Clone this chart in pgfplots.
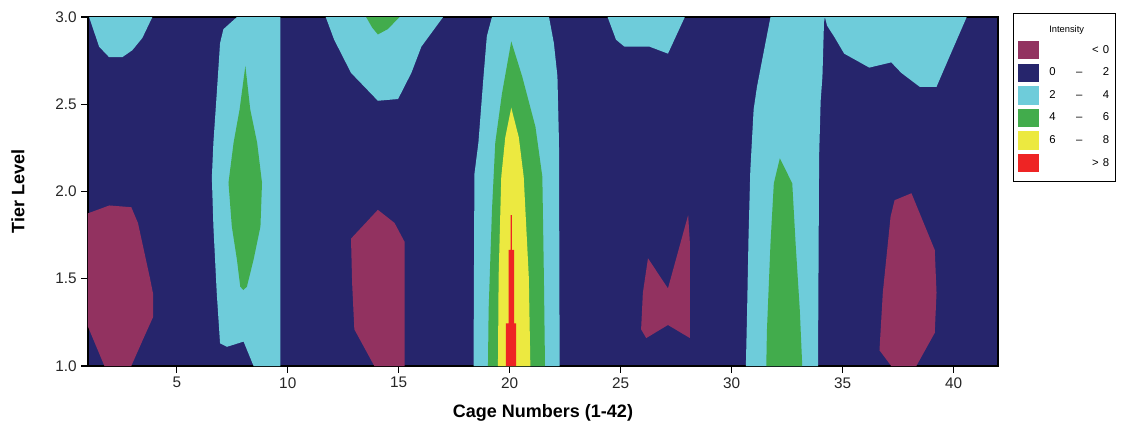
\documentclass[border=0pt]{standalone}
\usepackage{fontspec}
\setmainfont{Liberation Sans}
\usepackage{pgfplots}
\pgfplotsset{compat=1.18}
\definecolor{cNavy}{RGB}{38,37,108}
\definecolor{cCyan}{RGB}{110,204,218}
\definecolor{cGreen}{RGB}{66,172,76}
\definecolor{cYellow}{RGB}{236,233,64}
\definecolor{cRed}{RGB}{238,36,36}
\definecolor{cMaroon}{RGB}{146,50,96}
\newcommand{\lgimg}[1]{\addlegendimage{legend image code/.code={\fill[#1] (0pt,-6.4pt) rectangle (15pt,6.4pt);}}}
\newcommand{\rng}[3]{\hspace{6pt}\makebox[8pt][l]{#1}\makebox[29pt][c]{#2}\makebox[8pt][r]{#3}}
\begin{document}
\begin{tikzpicture}
\useasboundingbox (0,0) rectangle (842.25pt,322.5pt);
\begin{axis}[
  at={(66pt,48pt)}, anchor=south west,
  scale only axis, width=682.5pt, height=261.75pt,
  xmin=1, xmax=42, ymin=1, ymax=3,
  axis background/.style={fill=cNavy},
  axis line style={black, line width=0.8pt},
  xtick={5,10,...,40}, ytick={1,1.5,...,3},
  tick align=outside, tick pos=left,
  major tick length=5pt,
  tick style={black, line width=0.8pt},
  /pgf/number format/assume math mode=true,
  yticklabel style={/pgf/number format/.cd,fixed,fixed zerofill,precision=1},
  tick label style={font=\fontsize{11.5}{12}\selectfont, text=black!85},
  xlabel={\textbf{Cage Numbers (1-42)}},
  ylabel={\textbf{Tier Level}},
  label style={font=\fontsize{13.5}{14}\selectfont},
  xlabel style={at={(axis description cs:0.5,-0.135)}, anchor=center},
  ylabel style={at={(axis description cs:-0.077,0.5)}, anchor=center, rotate=0},
  legend style={at={(rel axis cs:1.0165,1.0115)}, anchor=north west,
    draw=black, line width=0.8pt, font=\fontsize{8.5}{9}\selectfont,
    inner xsep=3pt, inner ysep=7pt, row sep=3.3pt},
  legend cell align=left,
]
% 2-4 (cyan)
\addplot[fill=cCyan, draw=none, forget plot] coordinates {(1.05,3) (1.5,2.83) (1.95,2.77) (2.55,2.77) (3.0,2.81) (3.45,2.88) (3.9,3)} -- cycle;
\addplot[fill=cCyan, draw=none, forget plot] coordinates {(7.71,3) (7.10,2.93) (6.95,2.85) (6.80,2.56) (6.65,2.28) (6.58,2.08) (6.65,1.80) (6.80,1.42) (6.95,1.13) (7.26,1.11) (8.01,1.14) (8.46,1.0) (9.67,1.0) (9.67,3)} -- cycle;
\addplot[fill=cCyan, draw=none, forget plot] coordinates {(11.71,3) (12.09,2.87) (12.85,2.68) (14.06,2.52) (14.97,2.53) (15.57,2.68) (16.02,2.83) (17.0,3)} -- cycle;
\addplot[fill=cCyan, draw=none, forget plot] coordinates {(19.2,3) (18.97,2.89) (18.82,2.66) (18.59,2.28) (18.41,2.1) (18.37,1.0) (22.25,1.0) (22.22,2.28) (22.15,2.66) (21.99,2.85) (21.77,3)} -- cycle;
\addplot[fill=cCyan, draw=none, forget plot] coordinates {(24.41,3) (24.79,2.87) (25.17,2.83) (26.3,2.83) (27.13,2.79) (27.89,3)} -- cycle;
\addplot[fill=cCyan, draw=none, forget plot] coordinates {(31.75,3) (31.52,2.85) (31.14,2.6) (30.99,2.47) (30.84,2.12) (30.76,1.74) (30.69,1.28) (30.64,1.0) (33.89,1.0) (33.94,2.2) (34.01,2.52) (34.09,2.66) (34.16,2.97) (34.2,3)} -- cycle;
\addplot[fill=cCyan, draw=none, forget plot] coordinates {(34.2,3) (34.3,2.95) (34.62,2.887) (35.07,2.79) (36.2,2.71) (37.19,2.74) (37.64,2.68) (38.47,2.6) (39.23,2.6) (39.75,2.754) (40.59,3)} -- cycle;
% 4-6 (green)
\addplot[fill=cGreen, draw=none, forget plot] coordinates {(8.09,2.72) (7.83,2.47) (7.56,2.28) (7.33,2.05) (7.48,1.80) (7.71,1.61) (7.86,1.455) (8.0,1.435) (8.16,1.455) (8.46,1.61) (8.77,1.80) (8.84,2.05) (8.62,2.28) (8.31,2.47)} -- cycle;
\addplot[fill=cGreen, draw=none, forget plot] coordinates {(13.53,3) (13.8,2.94) (14.06,2.9) (14.5,2.93) (15.04,3)} -- cycle;
\addplot[fill=cGreen, draw=none, forget plot] coordinates {(20.07,2.86) (19.65,2.56) (19.35,2.28) (19.2,1.89) (19.05,1.32) (19.02,1.0) (21.59,1.0) (21.54,1.51) (21.47,2.085) (21.16,2.37) (20.56,2.66)} -- cycle;
\addplot[fill=cGreen, draw=none, forget plot] coordinates {(32.17,2.19) (31.9,2.047) (31.75,1.703) (31.59,1.206) (31.56,1.0) (33.18,1.0) (33.07,1.32) (32.88,1.703) (32.73,2.047)} -- cycle;
% 6-8 (yellow)
\addplot[fill=cYellow, draw=none, forget plot] coordinates {(20.07,2.48) (19.8,2.31) (19.62,2.085) (19.5,1.51) (19.47,1.0) (20.93,1.0) (20.86,1.51) (20.63,2.085) (20.41,2.31)} -- cycle;
% > 8 (red)
\addplot[fill=cRed, draw=none, forget plot] coordinates {(20.04,1.865) (20.1,1.865) (20.1,1.665) (20.2,1.665) (20.2,1.245) (20.29,1.245) (20.29,1.0) (19.83,1.0) (19.83,1.245) (19.95,1.245) (19.95,1.665) (20.04,1.665)} -- cycle;
% < 0 (maroon)
\addplot[fill=cMaroon, draw=none, forget plot] coordinates {(1.0,1.875) (1.96,1.92) (2.95,1.91) (3.25,1.82) (3.78,1.51) (3.93,1.415) (3.93,1.28) (3.47,1.15) (2.95,1.0) (1.74,1.0) (1.0,1.225)} -- cycle;
\addplot[fill=cMaroon, draw=none, forget plot] coordinates {(12.85,1.73) (14.06,1.895) (14.81,1.82) (15.27,1.71) (15.27,1.0) (13.9,1.0) (13.0,1.21) (12.9,1.475)} -- cycle;
\addplot[fill=cMaroon, draw=none, forget plot] coordinates {(26.23,1.617) (27.13,1.445) (28.04,1.865) (28.12,1.7) (28.12,1.16) (27.13,1.235) (26.15,1.16) (25.92,1.21) (26.0,1.42)} -- cycle;
\addplot[fill=cMaroon, draw=none, forget plot] coordinates {(37.34,1.95) (38.1,1.99) (39.15,1.665) (39.23,1.42) (39.15,1.19) (38.32,1.0) (37.19,1.0) (36.66,1.09) (36.81,1.42) (37.16,1.856)} -- cycle;
% legend
\addlegendimage{empty legend}
\addlegendentry{\hspace{6pt}\fontsize{7}{8}\selectfont Intensity}
\lgimg{cMaroon}\addlegendentry{\rng{}{\hfill <}{0}}
\lgimg{cNavy}\addlegendentry{\rng{0}{--}{2}}
\lgimg{cCyan}\addlegendentry{\rng{2}{--}{4}}
\lgimg{cGreen}\addlegendentry{\rng{4}{--}{6}}
\lgimg{cYellow}\addlegendentry{\rng{6}{--}{8}}
\lgimg{cRed}\addlegendentry{\rng{}{\hfill >}{8}}
\end{axis}
\end{tikzpicture}
\end{document}
